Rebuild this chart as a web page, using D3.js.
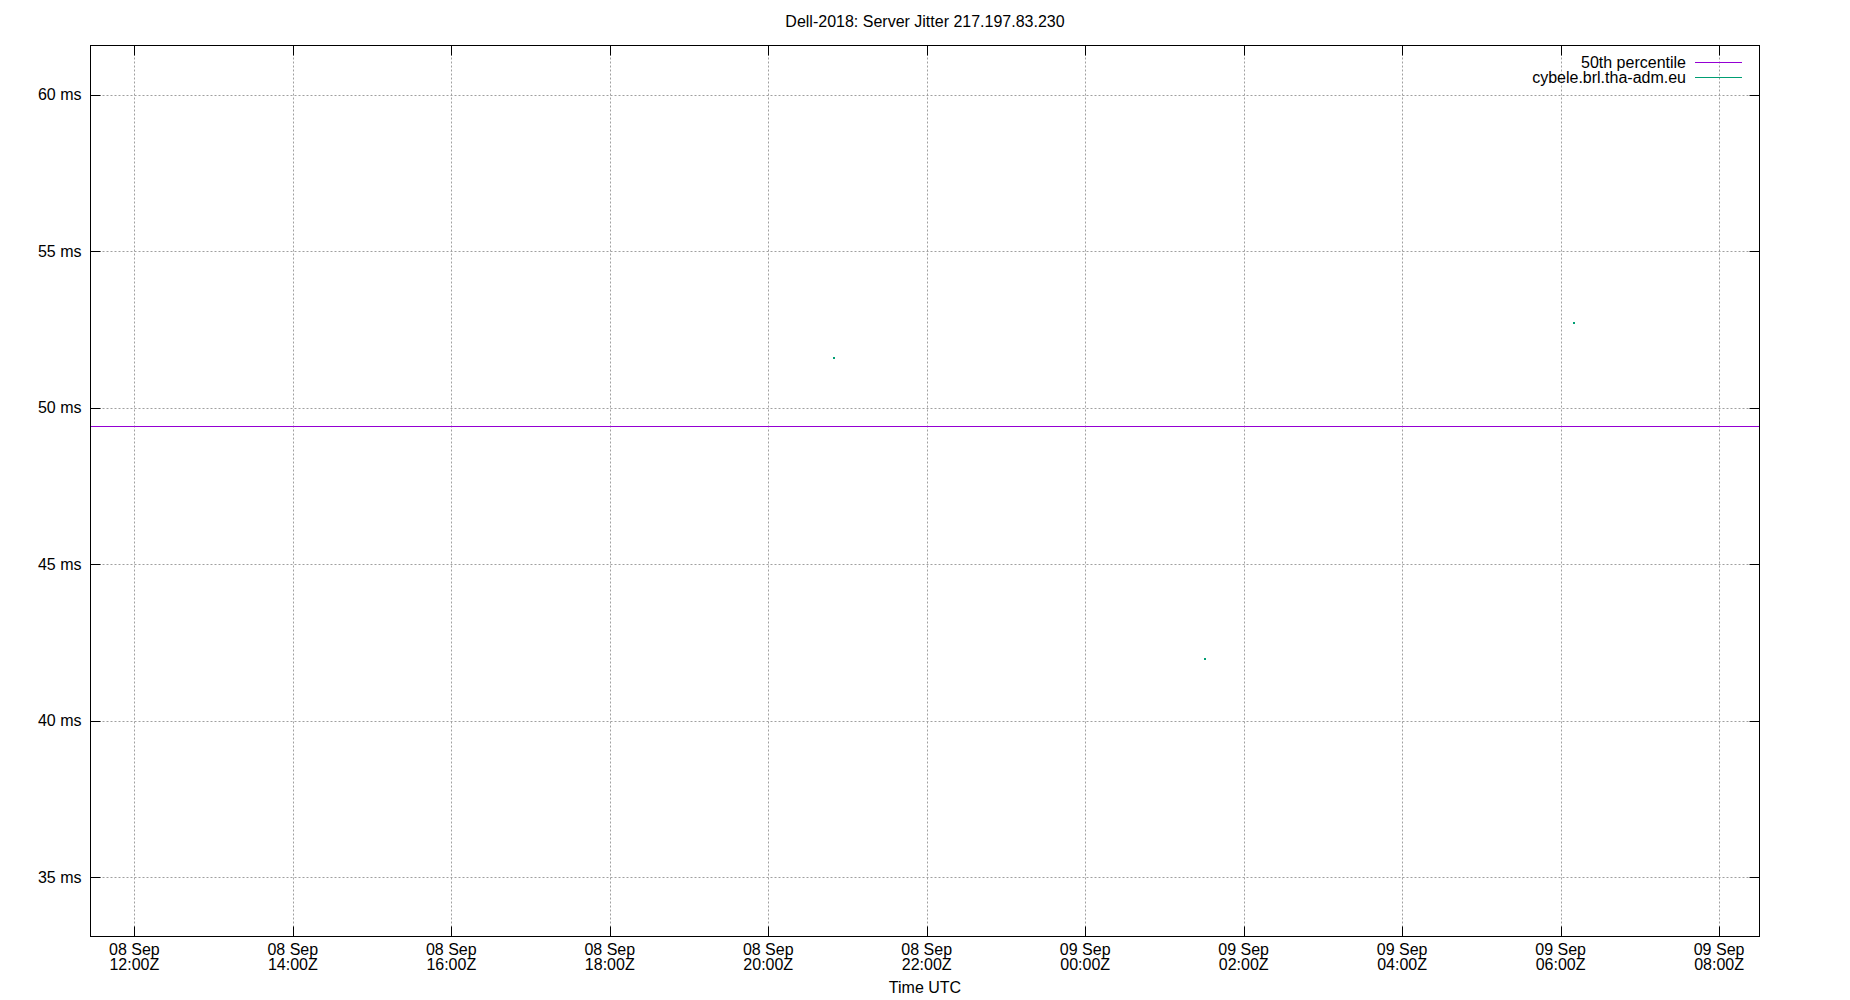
<!DOCTYPE html>
<html>
<head>
<meta charset="utf-8">
<script src="https://cdn.jsdelivr.net/npm/d3@7.9.0/dist/d3.min.js"></script>
<style>
  body { margin: 0; background: #fff; }
  svg { display: block; font-family: "Liberation Sans", Arial, sans-serif; }
</style>
</head>
<body>
<svg id="chart" width="1850" height="1000"></svg>
<script>
const title = 'Dell-2018: Server Jitter 217.197.83.230';
const xLabel = 'Time UTC';

const timeRange = ['2018-09-08T11:26:48Z', '2018-09-09T08:30:36Z'];
const msRange = [33.11, 61.57];
const msTicks = [35, 40, 45, 50, 55, 60];
const timeTicks = [
  '2018-09-08T12:00:00Z', '2018-09-08T14:00:00Z', '2018-09-08T16:00:00Z',
  '2018-09-08T18:00:00Z', '2018-09-08T20:00:00Z', '2018-09-08T22:00:00Z',
  '2018-09-09T00:00:00Z', '2018-09-09T02:00:00Z', '2018-09-09T04:00:00Z',
  '2018-09-09T06:00:00Z', '2018-09-09T08:00:00Z'
];

// 50th percentile, flat across the window
const p50Times = ['2018-09-08T11:26:48Z', '2018-09-09T08:30:36Z'];
const p50Values = [49.42, 49.42];

// cybele.brl.tha-adm.eu jitter samples
const serverTimes = ['2018-09-08T20:50:00Z', '2018-09-09T01:31:00Z', '2018-09-09T06:10:00Z'];
const serverValues = [51.6, 41.98, 52.72];

const seriesNames = ['50th percentile', 'cybele.brl.tha-adm.eu'];
const seriesColors = ['#9400d3', '#009e73'];

const W = 1850, H = 1000;
const plotL = 90.5, plotR = 1759.5, plotT = 45.5, plotB = 936.5;
const tickLen = 10;
const svg = d3.select('#chart');

const x = d3.scaleUtc()
  .domain(timeRange.map(d => new Date(d)))
  .range([plotL, plotR]);
const y = d3.scaleLinear()
  .domain(msRange)
  .range([plotB, plotT]);

// grid
const grid = svg.append('g')
  .attr('stroke', '#a0a0a0')
  .attr('stroke-width', 1)
  .attr('stroke-dasharray', '2,2');
msTicks.forEach(v => {
  const py = Math.round(y(v)) + 0.5;
  grid.append('line')
    .attr('x1', plotL).attr('x2', plotR)
    .attr('y1', py).attr('y2', py);
});
timeTicks.forEach(t => {
  const px = Math.round(x(new Date(t))) + 0.5;
  grid.append('line')
    .attr('x1', px).attr('x2', px)
    .attr('y1', plotT).attr('y2', plotB);
});

// ticks, mirrored on all sides
const ticks = svg.append('g').attr('stroke', '#000').attr('stroke-width', 1);
msTicks.forEach(v => {
  const py = Math.round(y(v)) + 0.5;
  ticks.append('line').attr('x1', plotL).attr('x2', plotL + tickLen).attr('y1', py).attr('y2', py);
  ticks.append('line').attr('x1', plotR).attr('x2', plotR - tickLen).attr('y1', py).attr('y2', py);
});
timeTicks.forEach(t => {
  const px = Math.round(x(new Date(t))) + 0.5;
  ticks.append('line').attr('x1', px).attr('x2', px).attr('y1', plotB).attr('y2', plotB - tickLen);
  ticks.append('line').attr('x1', px).attr('x2', px).attr('y1', plotT).attr('y2', plotT + tickLen);
});

// tick labels
svg.append('g').selectAll('text')
  .data(msTicks)
  .join('text')
  .attr('x', plotL - 9)
  .attr('y', d => y(d))
  .attr('dy', '0.35em')
  .attr('text-anchor', 'end')
  .attr('font-size', 16)
  .text(d => `${d} ms`);

const fmtDay = d3.utcFormat('%d %b');
const fmtHour = d3.utcFormat('%H:%MZ');
const xl = svg.append('g').attr('font-size', 16).attr('text-anchor', 'middle');
timeTicks.forEach(t => {
  const d = new Date(t);
  const g = xl.append('text').attr('x', x(d));
  g.append('tspan').attr('x', x(d)).attr('y', 955).text(fmtDay(d));
  g.append('tspan').attr('x', x(d)).attr('y', 969.5).text(fmtHour(d));
});

// title and axis label
svg.append('text')
  .attr('x', (plotL + plotR) / 2).attr('y', 27)
  .attr('text-anchor', 'middle').attr('font-size', 16)
  .text(title);
svg.append('text')
  .attr('x', (plotL + plotR) / 2).attr('y', 992.5)
  .attr('text-anchor', 'middle').attr('font-size', 16)
  .text(xLabel);

// series
const p50 = p50Times.map((t, i) => [new Date(t), p50Values[i]]);
svg.append('path')
  .datum(p50)
  .attr('fill', 'none')
  .attr('stroke', seriesColors[0])
  .attr('stroke-width', 1)
  .attr('d', d3.line().x(d => x(d[0])).y(d => Math.round(y(d[1])) + 0.5));

const pts = serverTimes.map((t, i) => [new Date(t), serverValues[i]]);
svg.append('g').selectAll('rect')
  .data(pts)
  .join('rect')
  .attr('x', d => Math.round(x(d[0])) - 1)
  .attr('y', d => Math.round(y(d[1])) - 1)
  .attr('width', 2)
  .attr('height', 2)
  .attr('fill', seriesColors[1]);

// frame
svg.append('rect')
  .attr('x', plotL).attr('y', plotT)
  .attr('width', plotR - plotL).attr('height', plotB - plotT)
  .attr('fill', 'none').attr('stroke', '#000').attr('stroke-width', 1);

// legend
const lg = svg.append('g').attr('font-size', 16);
seriesNames.forEach((name, i) => {
  const ly = 62.5 + i * 15;
  lg.append('text')
    .attr('x', 1686).attr('y', ly).attr('dy', '0.35em')
    .attr('text-anchor', 'end').text(name);
  lg.append('line')
    .attr('x1', 1695).attr('x2', 1742).attr('y1', ly).attr('y2', ly)
    .attr('stroke', seriesColors[i]).attr('stroke-width', 1);
});
</script>
</body>
</html>
